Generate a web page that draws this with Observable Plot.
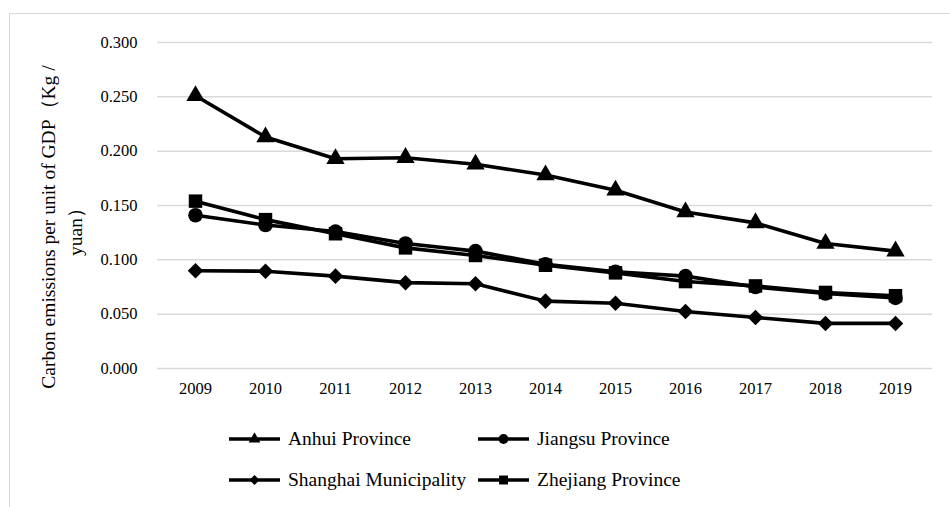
<!DOCTYPE html>
<html>
<head>
<meta charset="utf-8">
<script src="https://cdn.jsdelivr.net/npm/d3@7"></script>
<script src="https://cdn.jsdelivr.net/npm/@observablehq/plot@0.6"></script>
<style>
  body { margin: 0; background: #fff; }
  #wrap { position: relative; width: 950px; height: 507px; overflow: hidden; background: #fff; }
  #frame { position: absolute; left: 9px; top: 13px; width: 1000px; height: 600px; border: 1.5px solid #d9d9d9; box-sizing: border-box; }
  #chart { position: absolute; left: 0; top: 0; }
  #legend { position: absolute; left: 229px; top: 418px; display: grid; grid-template-columns: 249px auto; grid-auto-rows: 41px; font-family: 'Liberation Serif', serif; font-size: 19.5px; color: #000; }
  .item { display: flex; align-items: center; white-space: nowrap; }
  .item svg { margin-right: 8px; flex: none; }
</style>
</head>
<body>
<div id="wrap">
  <div id="frame"></div>
  <div id="chart"></div>
  <div id="legend"></div>
</div>
<script>
const years = ["2009","2010","2011","2012","2013","2014","2015","2016","2017","2018","2019"];
const anhui    = [0.251, 0.213, 0.193, 0.194, 0.188, 0.178, 0.164, 0.144, 0.134, 0.115, 0.108];
const jiangsu  = [0.141, 0.132, 0.126, 0.115, 0.108, 0.096, 0.089, 0.085, 0.075, 0.069, 0.065];
const shanghai = [0.090, 0.0895, 0.085, 0.079, 0.078, 0.062, 0.060, 0.0525, 0.047, 0.0415, 0.0415];
const zhejiang = [0.154, 0.137, 0.124, 0.111, 0.104, 0.095, 0.088, 0.080, 0.076, 0.070, 0.067];
const yTicks = [0, 0.05, 0.1, 0.15, 0.2, 0.25, 0.3];
const seriesNames = ["Anhui Province", "Jiangsu Province", "Shanghai Municipality", "Zhejiang Province"];
const yLabelLines = ["Carbon emissions per unit of GDP（Kg /", "yuan）"];

const seriesValues = [anhui, jiangsu, shanghai, zhejiang];
const symbols = {"Anhui Province": "triangle", "Jiangsu Province": "circle", "Shanghai Municipality": "diamond2", "Zhejiang Province": "square"};
const radii = {"Anhui Province": 6.8, "Jiangsu Province": 7.3, "Shanghai Municipality": 7.0, "Zhejiang Province": 7.6};
// drawing order (Jiangsu on top)
const drawOrder = ["Anhui Province", "Shanghai Municipality", "Zhejiang Province", "Jiangsu Province"];

const table = seriesNames.flatMap((name, i) => years.map((yr, j) => ({series: name, year: yr, value: seriesValues[i][j]})));

const marks = [Plot.ruleY(yTicks, {stroke: "#d9d9d9", strokeWidth: 1.5})];
for (const name of drawOrder) {
  const d = table.filter(r => r.series === name);
  marks.push(Plot.line(d, {x: "year", y: "value", stroke: "#000", strokeWidth: 3.6}));
}
for (const name of drawOrder) {
  const d = table.filter(r => r.series === name);
  marks.push(Plot.dot(d, {x: "year", y: "value", symbol: () => symbols[name], r: radii[name], fill: "#000", stroke: "none"}));
}

const chart = Plot.plot({
  width: 950,
  height: 400,
  marginLeft: 157,
  marginRight: 18,
  marginTop: 42,
  marginBottom: 32,
  style: {fontFamily: "'Liberation Serif', serif", fontSize: "16.5px", background: "transparent", color: "#000"},
  symbol: {type: "identity"},
  x: {type: "point", domain: years, padding: 0.5, label: null, tickSize: 0, tickPadding: 14},
  y: {domain: [0, 0.3], ticks: yTicks, tickFormat: d3.format(".3f"), label: null, tickSize: 0, tickPadding: 20},
  marks
});
document.getElementById("chart").appendChild(chart);

// y axis title (two lines, rotated)
const svg = d3.select(chart);
const lblX = [55, 82];
yLabelLines.forEach((t, i) => {
  svg.append("text")
    .attr("transform", `translate(${lblX[i]},227) rotate(-90)`)
    .attr("text-anchor", "middle")
    .attr("font-family", "'Liberation Serif', serif")
    .attr("font-size", "19.5px")
    .attr("fill", "#000")
    .text(t);
});

// legend
const legendOrder = ["Anhui Province", "Jiangsu Province", "Shanghai Municipality", "Zhejiang Province"];
const legendSize = {"Anhui Province": 60, "Jiangsu Province": 75, "Shanghai Municipality": 65, "Zhejiang Province": 80};
const symMap = {triangle: d3.symbolTriangle, circle: d3.symbolCircle, diamond2: d3.symbolDiamond2, square: d3.symbolSquare};
const legend = d3.select("#legend");
legendOrder.forEach(name => {
  const item = legend.append("div").attr("class", "item");
  const s = item.append("svg").attr("width", 51).attr("height", 20);
  s.append("line").attr("x1", 0).attr("x2", 51).attr("y1", 10).attr("y2", 10).attr("stroke", "#000").attr("stroke-width", 3.6);
  s.append("path").attr("transform", "translate(25.5,10)").attr("d", d3.symbol(symMap[symbols[name]], legendSize[name])()).attr("fill", "#000");
  item.append("span").text(name);
});
</script>
</body>
</html>
